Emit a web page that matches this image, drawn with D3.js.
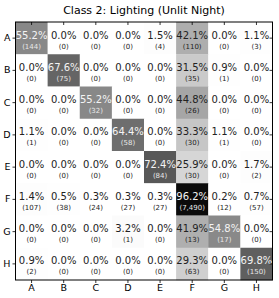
<!DOCTYPE html>
<html><head><meta charset="utf-8">
<script src="https://cdn.jsdelivr.net/npm/d3@7"></script>
<style>body{margin:0;background:#fff}svg{display:block}</style>
</head><body>
<script>
const title = "Class 2: Lighting (Unlit Night)";
const rowLabels = ["A","B","C","D","E","F","G","H"];
const colLabels = ["A","B","C","D","E","F","G","H"];
const percents = [
  [55.2,0.0,0.0,0.0,1.5,42.1,0.0,1.1],
  [0.0,67.6,0.0,0.0,0.0,31.5,0.9,0.0],
  [0.0,0.0,55.2,0.0,0.0,44.8,0.0,0.0],
  [1.1,0.0,0.0,64.4,0.0,33.3,1.1,0.0],
  [0.0,0.0,0.0,0.0,72.4,25.9,0.0,1.7],
  [1.4,0.5,0.3,0.3,0.3,96.2,0.2,0.7],
  [0.0,0.0,0.0,3.2,0.0,41.9,54.8,0.0],
  [0.9,0.0,0.0,0.0,0.0,29.3,0.0,69.8]
];
const counts = [
  [144,0,0,0,4,110,0,3],
  [0,75,0,0,0,35,1,0],
  [0,0,32,0,0,26,0,0],
  [1,0,0,58,0,30,1,0],
  [0,0,0,0,84,30,0,2],
  [107,38,24,27,27,7490,12,57],
  [0,0,0,1,0,13,17,0],
  [2,0,0,0,0,63,0,150]
];

const W = 279, H = 298;
const m = {left:15.5, right:6.5, top:22, bottom:18};
const svg = d3.select("body").append("svg").attr("width",W).attr("height",H);
const x = d3.scaleBand().domain(colLabels).range([m.left, W-m.right]);
const y = d3.scaleBand().domain(rowLabels).range([m.top, H-m.bottom]);
const color = d3.scaleSequential(d3.interpolateGreys).domain([0,100]);
const font = "DejaVu Sans, sans-serif";

const cells = [];
rowLabels.forEach((r,i)=>colLabels.forEach((c,j)=>cells.push({r,c,p:percents[i][j],n:counts[i][j]})));

const g = svg.append("g");
g.selectAll("rect").data(cells).join("rect")
  .attr("x",d=>x(d.c)).attr("y",d=>y(d.r))
  .attr("width",x.bandwidth()+0.3).attr("height",y.bandwidth()+0.3)
  .attr("fill",d=>color(d.p));

const fmtN = d3.format(",");
g.selectAll("text.p").data(cells).join("text").attr("class","p")
  .attr("x",d=>x(d.c)+x.bandwidth()/2).attr("y",d=>y(d.r)+y.bandwidth()/2+0.5)
  .attr("text-anchor","middle").attr("font-family",font).attr("font-size",10)
  .attr("fill",d=>d.p>50?"#f4f4f4":"#222")
  .text(d=>d.p.toFixed(1)+"%");
g.selectAll("text.n").data(cells).join("text").attr("class","n")
  .attr("x",d=>x(d.c)+x.bandwidth()/2).attr("y",d=>y(d.r)+y.bandwidth()/2+10.5)
  .attr("text-anchor","middle").attr("font-family",font).attr("font-size",7)
  .attr("fill",d=>d.p>50?"#e8e8e8":"#222")
  .text(d=>"("+fmtN(d.n)+")");

// axes
const ax = svg.append("g");
const axLeft = ax.append("g").attr("transform",`translate(${m.left},0)`)
  .call(d3.axisLeft(y).tickSize(3).tickPadding(2));
const axBottom = ax.append("g").attr("transform",`translate(0,${H-m.bottom})`)
  .call(d3.axisBottom(x).tickSize(3).tickPadding(1));
const axTop = ax.append("g").attr("transform",`translate(0,${m.top})`)
  .call(d3.axisTop(x).tickSize(-3).tickFormat(""));
const axRight = ax.append("g").attr("transform",`translate(${W-m.right},0)`)
  .call(d3.axisRight(y).tickSize(-3).tickFormat(""));
[axLeft,axBottom,axTop,axRight].forEach(a=>{
  a.attr("font-family",font).attr("font-size",9.5);
  a.selectAll(".domain").remove();
  a.selectAll("line").attr("stroke","#000").attr("stroke-width",0.8);
  a.selectAll("text").attr("fill","#000");
});
svg.append("rect").attr("x",m.left).attr("y",m.top)
  .attr("width",W-m.left-m.right).attr("height",H-m.top-m.bottom)
  .attr("fill","none").attr("stroke","#000").attr("stroke-width",1);

svg.append("text").attr("x",(m.left+W-m.right)/2).attr("y",14)
  .attr("text-anchor","middle").attr("font-family",font).attr("font-size",11)
  .attr("fill","#000").text(title);
</script>
</body></html>
